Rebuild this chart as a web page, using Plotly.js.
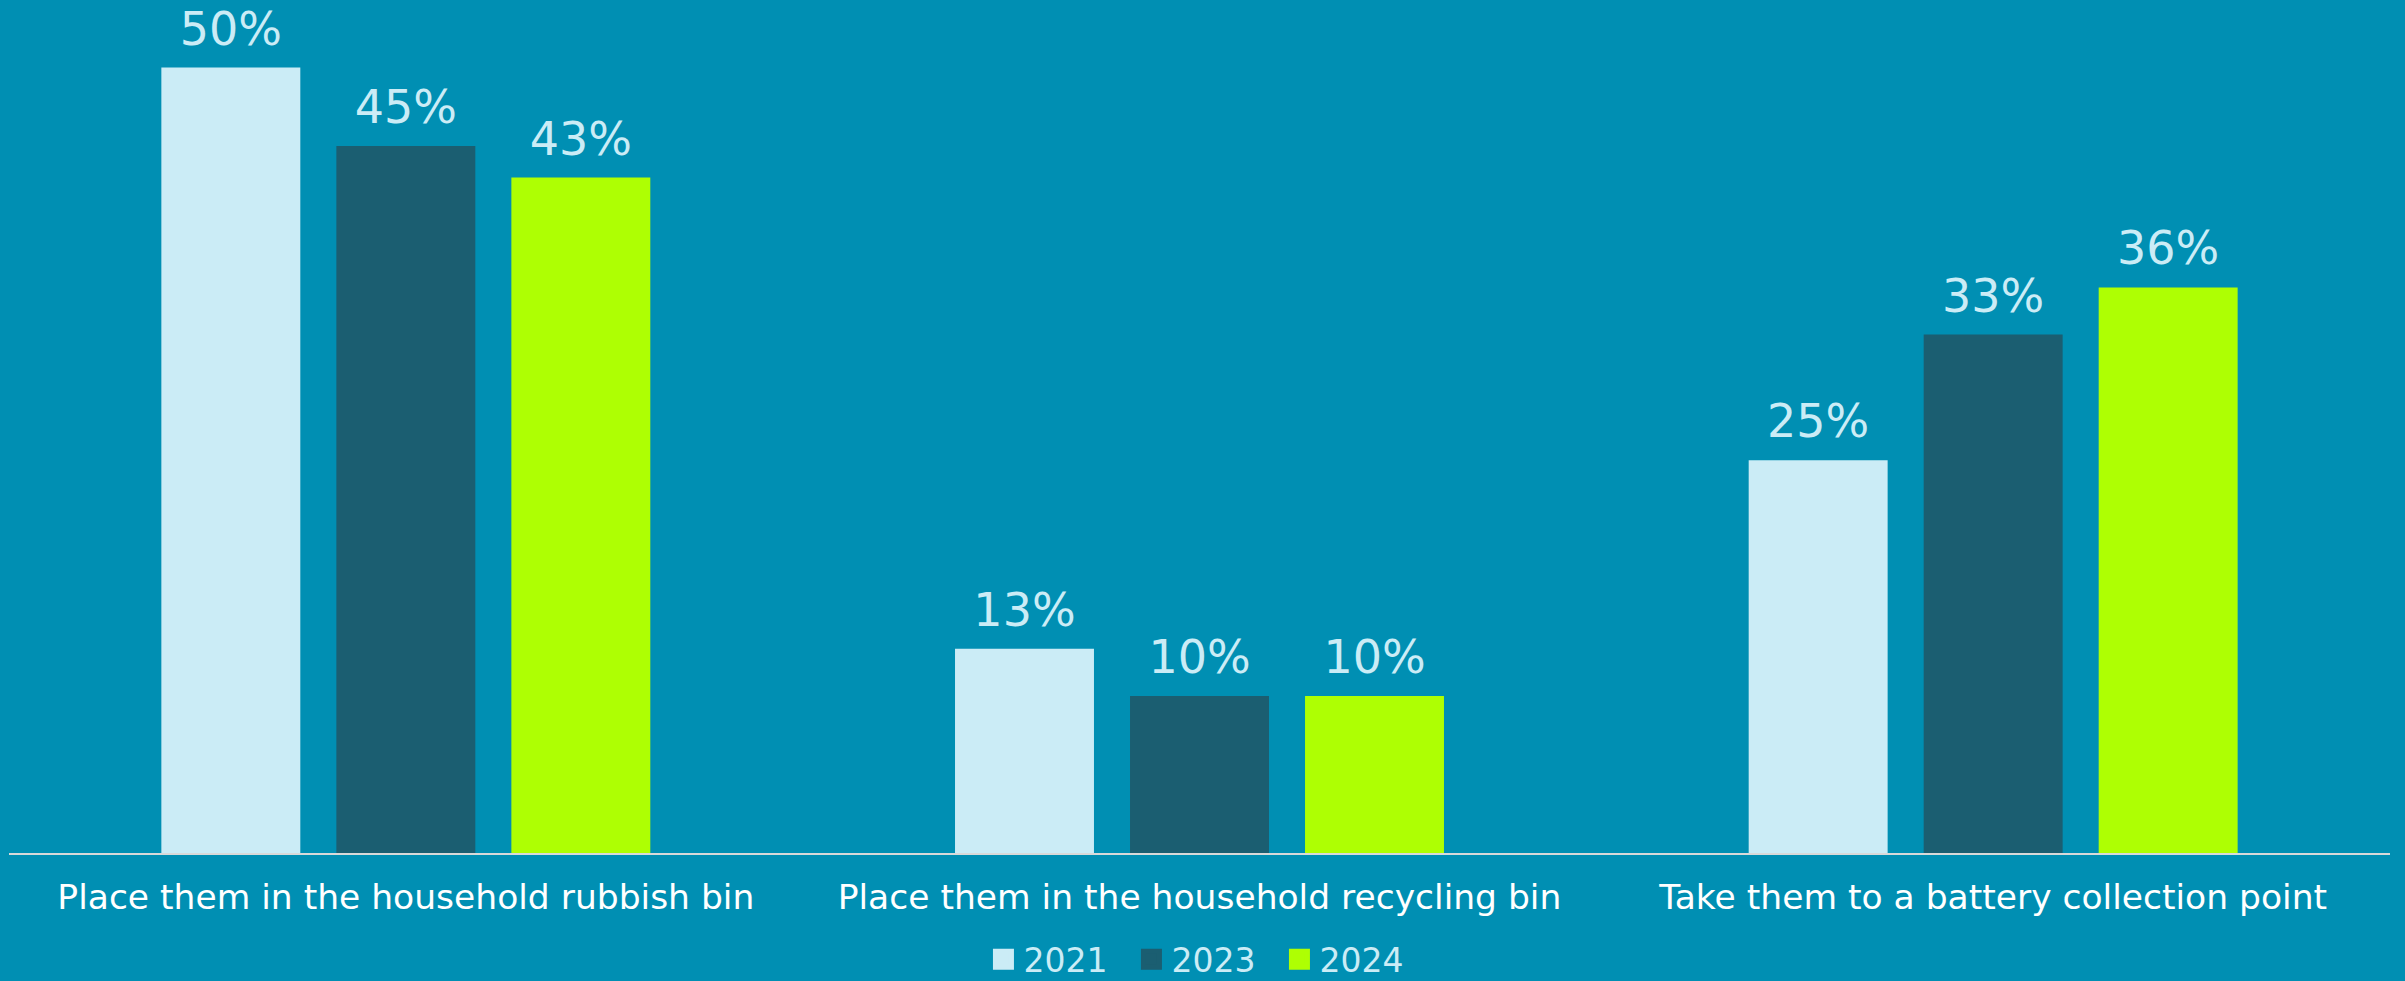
<!DOCTYPE html>
<html>
<head>
<meta charset="utf-8">
<script src="https://cdn.plot.ly/plotly-3.0.1.min.js"></script>
<style>
  html, body { margin: 0; padding: 0; background: #008FB3; }
  #chart { width: 2405px; height: 981px; }
</style>
</head>
<body>
<div id="chart"></div>
<script>
const categories = [
  "Place them in the household rubbish bin",
  "Place them in the household recycling bin",
  "Take them to a battery collection point"
];
const years = ["2021", "2023", "2024"];
const values2021 = [50, 13, 25];
const values2023 = [45, 10, 33];
const values2024 = [43, 10, 36];
const seriesColors = ["#CBECF6", "#1B5E71", "#AEFF03"];

const allValues = [values2021, values2023, values2024];
const labelFont = { family: "DejaVu Sans", size: 46, color: "#CBECF6" };
// invisible padding spans lift the outside labels a little off the bars
const pad = "<span style='font-size:84px'>&nbsp;</span>";

const traces = [];
allValues.forEach((vals, i) => {
  traces.push({
    type: "bar",
    name: years[i],
    x: categories,
    y: vals,
    text: vals.map(v => pad + v + "%" + pad),
    textposition: "outside",
    constraintext: "none",
    textfont: labelFont,
    cliponaxis: false,
    marker: { color: seriesColors[i] },
    showlegend: false,
    hoverinfo: "none"
  });
});
// legend proxies (square swatches)
years.forEach((yr, i) => {
  traces.push({
    type: "scatter",
    mode: "markers",
    name: yr,
    x: [null],
    y: [null],
    marker: { symbol: "square", size: 16, color: seriesColors[i], line: { color: seriesColors[i], width: 5 } },
    showlegend: true,
    hoverinfo: "none"
  });
});

const layout = {
  width: 2405,
  height: 981,
  paper_bgcolor: "#008FB3",
  plot_bgcolor: "#008FB3",
  margin: { l: 9, r: 15, t: 0, b: 128, autoexpand: false },
  barmode: "group",
  bargap: 0.3385,
  bargroupgap: 0.206,
  showlegend: true,
  legend: {
    orientation: "h",
    x: 0.5025,
    xanchor: "center",
    xref: "paper",
    yref: "container",
    y: 0.022,
    yanchor: "middle",
    entrywidth: 103,
    entrywidthmode: "pixels",
    font: { family: "DejaVu Sans", size: 33, color: "#CBECF6" },
    bgcolor: "rgba(0,0,0,0)",
    itemclick: false,
    itemdoubleclick: false
  },
  xaxis: {
    type: "category",
    showline: true,
    linecolor: "#D9D9D9",
    linewidth: 2,
    ticks: "",
    ticklabelstandoff: 13,
    showgrid: false,
    zeroline: false,
    tickfont: { family: "DejaVu Sans", size: 34.5, color: "#FFFFFF" },
    fixedrange: true
  },
  yaxis: {
    range: [0, 54.3],
    visible: false,
    showgrid: false,
    zeroline: false,
    fixedrange: true
  }
};

Plotly.newPlot("chart", traces, layout, { displayModeBar: false, staticPlot: true });
</script>
</body>
</html>
